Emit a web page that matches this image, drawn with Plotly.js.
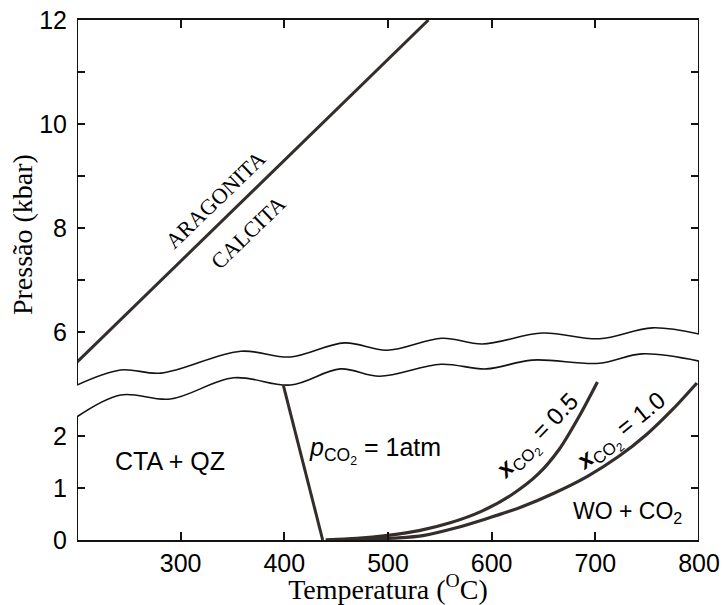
<!DOCTYPE html>
<html><head><meta charset="utf-8">
<script src="https://cdn.plot.ly/plotly-3.0.1.min.js"></script>
<style>html,body{margin:0;padding:0;background:#fff}</style>
</head><body><div id="chart" style="width:728px;height:605px"></div>
<script>
// ---- data (temperature in °C, pressure in kbar) ----
const xTicks = [300, 400, 500, 600, 700, 800];
const upperTicks = [6, 8, 10, 12];
const upperMinorTicks = [7, 9, 11];
const upperRightTicks = [7, 8, 9, 10, 11];
const lowerTicks = [0, 1, 2];
const lowerRightTicks = [1, 2];

// aragonite = calcite boundary (upper panel)
const aragT = [200, 539];
const aragP = [5.42, 12];

// axis-break wavy edges
const breakUpT = [200, 242, 281, 358, 406, 458, 499, 552, 591, 649, 704, 755, 800];
const breakUpP = [4.98, 5.27, 5.21, 5.63, 5.52, 5.79, 5.65, 5.88, 5.77, 5.98, 5.87, 6.08, 5.96];
const breakLowT = [200, 242, 290, 351, 406, 454, 492, 551, 595, 639, 704, 745, 800];
const breakLowP = [2.37, 2.79, 2.71, 3.12, 2.98, 3.29, 3.15, 3.38, 3.29, 3.46, 3.40, 3.58, 3.44];

// p CO2 = 1 atm reaction line
const pco2T = [399, 437];
const pco2P = [2.98, 0];

// X CO2 = 0.5 curve
const x05T = [440, 470, 500, 530, 560, 590, 620, 645, 665, 685, 702];
const x05P = [0, 0.03, 0.09, 0.18, 0.33, 0.55, 0.88, 1.27, 1.74, 2.4, 3.04];

// X CO2 = 1.0 curve
const x10T = [440, 480, 510, 535, 565, 595, 628, 660, 692, 722, 750, 775, 798];
const x10P = [0, 0.02, 0.04, 0.09, 0.23, 0.41, 0.63, 0.9, 1.22, 1.6, 2.04, 2.52, 3.02];

const tMin = 200, tMax = 800, pTop = 12, pBottom = 0;

const ink = '#151312';
const curveInk = '#332e2b';
const sans = 'Liberation Sans, Arial, sans-serif';
const serif = 'Liberation Serif, Times New Roman, serif';

function seg(x, y, axis, w, color, shape, smooth) {
  return {x: x, y: y, yaxis: axis, type: 'scatter', mode: 'lines', cliponaxis: false,
          hoverinfo: 'skip',
          line: {color: color || ink, width: w, shape: shape || 'linear', smoothing: smooth || 1}};
}

const traces = [
  seg([tMin, tMin], [breakUpP[0], pTop], 'y5', 2),
  seg([tMax, tMax], [breakUpP[breakUpP.length - 1], pTop], 'y3', 2),
  seg([tMin, tMin], [pBottom, breakLowP[0]], 'y', 2),
  seg([tMax, tMax], [pBottom, breakLowP[breakLowP.length - 1]], 'y4', 2),
  seg(breakUpT, breakUpP, 'y2', 1.6, ink, 'spline', 1),
  seg(breakLowT, breakLowP, 'y', 1.6, ink, 'spline', 1),
  seg(aragT, aragP, 'y2', 3, curveInk),
  seg(pco2T, pco2P, 'y', 3, curveInk),
  seg(x05T, x05P, 'y', 3.2, curveInk, 'spline', 0.8),
  seg(x10T, x10P, 'y', 3.2, curveInk, 'spline', 0.8)
];

const tickCommon = {ticks: 'inside', ticklen: 8, tickwidth: 2, tickcolor: ink,
  showgrid: false, zeroline: false, tickfont: {family: sans, size: 25, color: '#000'}};

const layout = {
  width: 728, height: 605,
  margin: {l: 77, r: 29, t: 20, b: 65},
  paper_bgcolor: '#fff', plot_bgcolor: '#fff',
  showlegend: false,
  xaxis: Object.assign({}, tickCommon, {
    range: [tMin, tMax], tickvals: xTicks, showline: true, linewidth: 2, linecolor: ink,
    mirror: 'ticks',
    title: {text: 'Temperatura (<sup>O</sup>C)', font: {family: serif, size: 28, color: '#000'}, standoff: 10}
  }),
  yaxis: Object.assign({}, tickCommon, {
    range: [0, 10], tickvals: lowerTicks, showline: false, ticklabelstandoff: 9
  }),
  yaxis2: Object.assign({}, tickCommon, {
    overlaying: 'y', side: 'left', anchor: 'x', range: [2, 12],
    tickvals: upperTicks, showline: false, ticklabelstandoff: 9
  }),
  yaxis5: Object.assign({}, tickCommon, {
    overlaying: 'y', side: 'left', anchor: 'x', range: [2, 12],
    tickvals: upperMinorTicks, showticklabels: false, showline: false
  }),
  yaxis3: Object.assign({}, tickCommon, {
    overlaying: 'y', side: 'right', anchor: 'x', range: [2, 12],
    tickvals: upperRightTicks, showticklabels: false, showline: false
  }),
  yaxis4: Object.assign({}, tickCommon, {
    overlaying: 'y', side: 'right', anchor: 'x', range: [0, 10],
    tickvals: lowerRightTicks, showticklabels: false, showline: false
  }),
  annotations: [
    {text: 'Pressão (kbar)', xref: 'paper', yref: 'paper', x: -0.088, y: 0.587,
     xanchor: 'center', yanchor: 'middle',
     textangle: -90, showarrow: false, font: {family: serif, size: 28, color: '#000'}},
    {text: 'ARAGONITA', xref: 'x', yref: 'y2', x: 334, y: 8.54, textangle: -44, showarrow: false,
     font: {family: serif, size: 22, color: '#000'}},
    {text: 'CALCITA', xref: 'x', yref: 'y2', x: 365, y: 7.92, textangle: -44, showarrow: false,
     font: {family: serif, size: 22, color: '#000'}},
    {text: 'CTA + QZ', xref: 'x', yref: 'y', x: 290, y: 1.52, showarrow: false,
     font: {family: sans, size: 25, color: '#000'}},
    {text: '<i>p</i><sub>CO<sub>2</sub></sub> = 1atm', xref: 'x', yref: 'y', x: 422, y: 1.73,
     xanchor: 'left', showarrow: false, font: {family: sans, size: 25, color: '#000'}},
    {text: '<b><i>x</i></b><sub>CO<sub>2</sub></sub> = 0.5', xref: 'x', yref: 'y', x: 645, y: 1.98,
     textangle: -46, showarrow: false, font: {family: sans, size: 24, color: '#000'}},
    {text: '<b><i>x</i></b><sub>CO<sub>2</sub></sub> = 1.0', xref: 'x', yref: 'y', x: 726, y: 2.06,
     textangle: -39, showarrow: false, font: {family: sans, size: 24, color: '#000'}},
    {text: 'WO + CO<sub>2</sub>', xref: 'x', yref: 'y', x: 731, y: 0.52, showarrow: false,
     font: {family: sans, size: 23, color: '#000'}}
  ]
};

Plotly.newPlot('chart', traces, layout, {displayModeBar: false, staticPlot: true});
</script>
</body></html>
